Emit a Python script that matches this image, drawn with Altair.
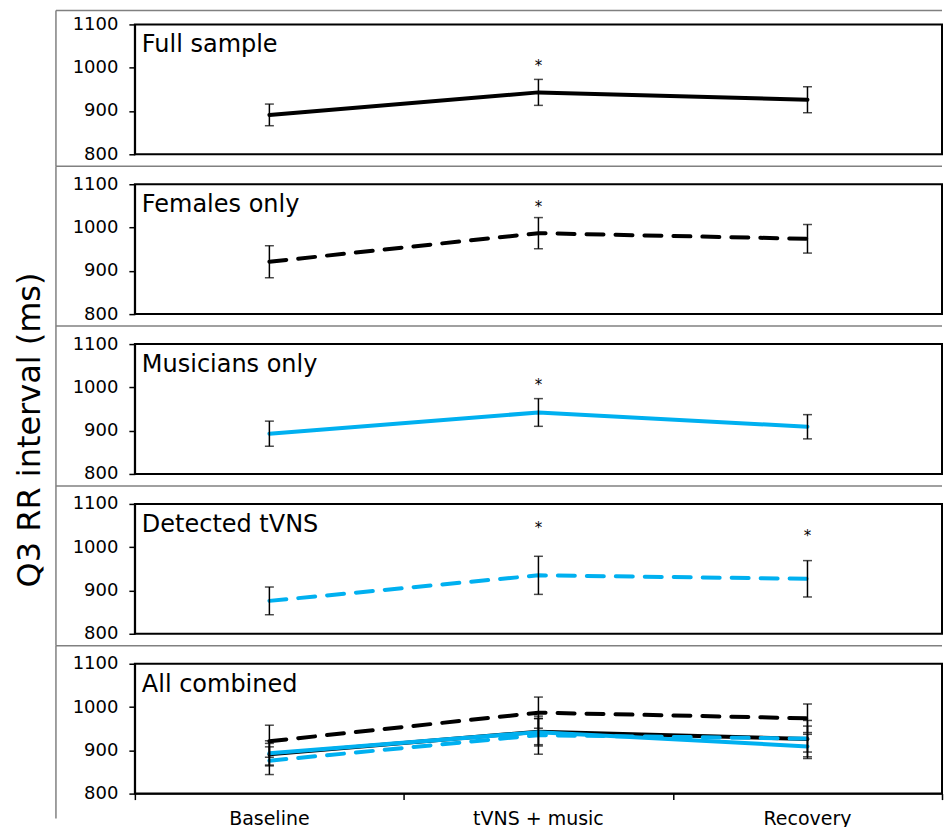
import altair as alt
import pandas as pd

# ---------------- data ----------------
phases = ["Baseline", "tVNS + music", "Recovery"]
series_names = ["Full sample", "Females only", "Musicians only", "Detected tVNS"]

full_mean = [891, 943, 926]
full_err = [25, 30, 30]
fem_mean = [921, 987, 974]
fem_err = [37, 36, 33]
mus_mean = [893, 942, 909]
mus_err = [29, 32, 28]
det_mean = [876, 935, 927]
det_err = [32, 44, 42]

star_series = ["Full sample", "Females only", "Musicians only", "Detected tVNS", "Detected tVNS"]
star_phase = ["tVNS + music", "tVNS + music", "tVNS + music", "tVNS + music", "Recovery"]
star_value = [1008, 1052, 1009, 1049, 1030]
star_symbol = ["*", "*", "*", "*", "*"]

y_ticks = [800, 900, 1000, 1100]
panel_titles = ["Full sample", "Females only", "Musicians only", "Detected tVNS", "All combined"]
y_title = "Q3 RR interval (ms)"

# ---------------- tables built from the arrays ----------------
means = [full_mean, fem_mean, mus_mean, det_mean]
errs = [full_err, fem_err, mus_err, det_err]
rows = []
for s, m, e in zip(series_names, means, errs):
    for i, p in enumerate(phases):
        rows.append({"series": s, "phase": p, "pos": i + 0.5,
                     "mean": m[i], "lo": m[i] - e[i], "hi": m[i] + e[i]})
df = pd.DataFrame(rows)

stars = pd.DataFrame({
    "series": star_series,
    "pos": [phases.index(p) + 0.5 for p in star_phase],
    "value": star_value,
    "sym": star_symbol,
})
xlab = pd.DataFrame({"phase": phases, "pos": [i + 0.5 for i in range(len(phases))]})
one = pd.DataFrame({"k": [0]})

# ---------------- styles ----------------
BLUE = "#00B0F0"
GRAY = "#808080"
FONT = "DejaVu Sans"
style = {
    "Full sample": ("black", None),
    "Females only": ("black", [17, 12]),
    "Musicians only": (BLUE, None),
    "Detected tVNS": (BLUE, [17, 12]),
}
W, H, SP = 808, 130, 30

xscale = alt.Scale(domain=[0, 3], nice=False, zero=False)
yscale = alt.Scale(domain=[800, 1100], nice=False, zero=False)
yaxis = alt.Axis(values=y_ticks, title=None, grid=False, tickSize=6, labelPadding=11,
                 labelFontSize=18, labelFont=FONT, labelColor="black", labelFlush=False,
                 domainColor="black", domainWidth=1.5, tickColor="black", tickWidth=1.5,
                 format="d")
xaxis_last = alt.Axis(values=[0, 1, 2, 3], labels=False, title=None, grid=False, tickSize=6,
                      domainColor="black", domainWidth=1.5, tickColor="black", tickWidth=1.5)


def panel(idx, members, title, last):
    xaxis = xaxis_last if last else None
    X = lambda: alt.X("pos:Q", scale=xscale, axis=xaxis)
    layers = []
    top = -14 if idx == 0 else -18
    bottom = 155 if last else H + SP - 18
    base1 = alt.Chart(one)
    if idx == 0:
        layers.append(base1.mark_rule(color="white", strokeWidth=1).encode(
            x=alt.value(-125.5), x2=alt.value(-125.5), y=alt.value(0), y2=alt.value(2)))
    layers.append(base1.mark_rule(color=GRAY, strokeWidth=1.5).encode(
        x=alt.value(-79), x2=alt.value(W), y=alt.value(top)))
    layers.append(base1.mark_rule(color=GRAY, strokeWidth=1.5).encode(
        x=alt.value(-79), y=alt.value(top), y2=alt.value(bottom)))

    for m in members:
        col, dash = style[m]
        kw = dict(color=col, strokeWidth=4, strokeCap="round", strokeJoin="round")
        if dash:
            kw["strokeDash"] = dash
        layers.append(alt.Chart(df).transform_filter(alt.datum.series == m).mark_line(**kw).encode(
            x=X(), y=alt.Y("mean:Q", scale=yscale, axis=yaxis), order="pos:Q"))
    for m in members:
        d = alt.Chart(df).transform_filter(alt.datum.series == m)
        layers.append(d.mark_rule(color="black", strokeWidth=1.5).encode(
            x=X(), y=alt.Y("lo:Q", scale=yscale, axis=yaxis), y2="hi:Q"))
        layers.append(d.transform_fold(["lo", "hi"], as_=["end", "val"]).mark_tick(
            orient="horizontal", size=9, thickness=1.5, color="black").encode(
            x=X(), y=alt.Y("val:Q", scale=yscale, axis=yaxis)))
    if len(members) == 1:
        layers.append(alt.Chart(stars).transform_filter(alt.datum.series == members[0]).mark_text(
            fontSize=15, font=FONT, color="black", baseline="alphabetic", dy=7).encode(
            x=X(), y=alt.Y("value:Q", scale=yscale, axis=yaxis), text="sym:N"))

    tdf = pd.DataFrame({"t": [title]})
    layers.append(alt.Chart(tdf).mark_text(align="left", baseline="alphabetic", fontSize=24,
                                           font=FONT, color="black").encode(
        x=alt.value(7), y=alt.value(28), text="t:N"))
    if idx == 2:
        ydf = pd.DataFrame({"t": [y_title]})
        layers.append(alt.Chart(ydf).mark_text(align="center", baseline="alphabetic", angle=270,
                                               fontSize=32, font=FONT, color="black").encode(
            x=alt.value(-95), y=alt.value(86), text="t:N"))
    if last:
        layers.append(alt.Chart(xlab).mark_text(align="center", baseline="alphabetic", fontSize=19,
                                                font=FONT, color="black").encode(
            x=X(), y=alt.value(H + 31), text="phase:N"))
    return alt.layer(*layers).properties(width=W, height=H)


panels = [panel(i, [series_names[i]], panel_titles[i], False) for i in range(4)]
panels.append(panel(4, series_names, panel_titles[4], True))

chart = alt.vconcat(*panels, spacing=SP, bounds="flush").properties(
    padding=0, background="white"
).configure(font=FONT).configure_view(stroke="black", strokeWidth=2)

chart.save("out.html", embed_options={"renderer": "svg", "actions": False})
